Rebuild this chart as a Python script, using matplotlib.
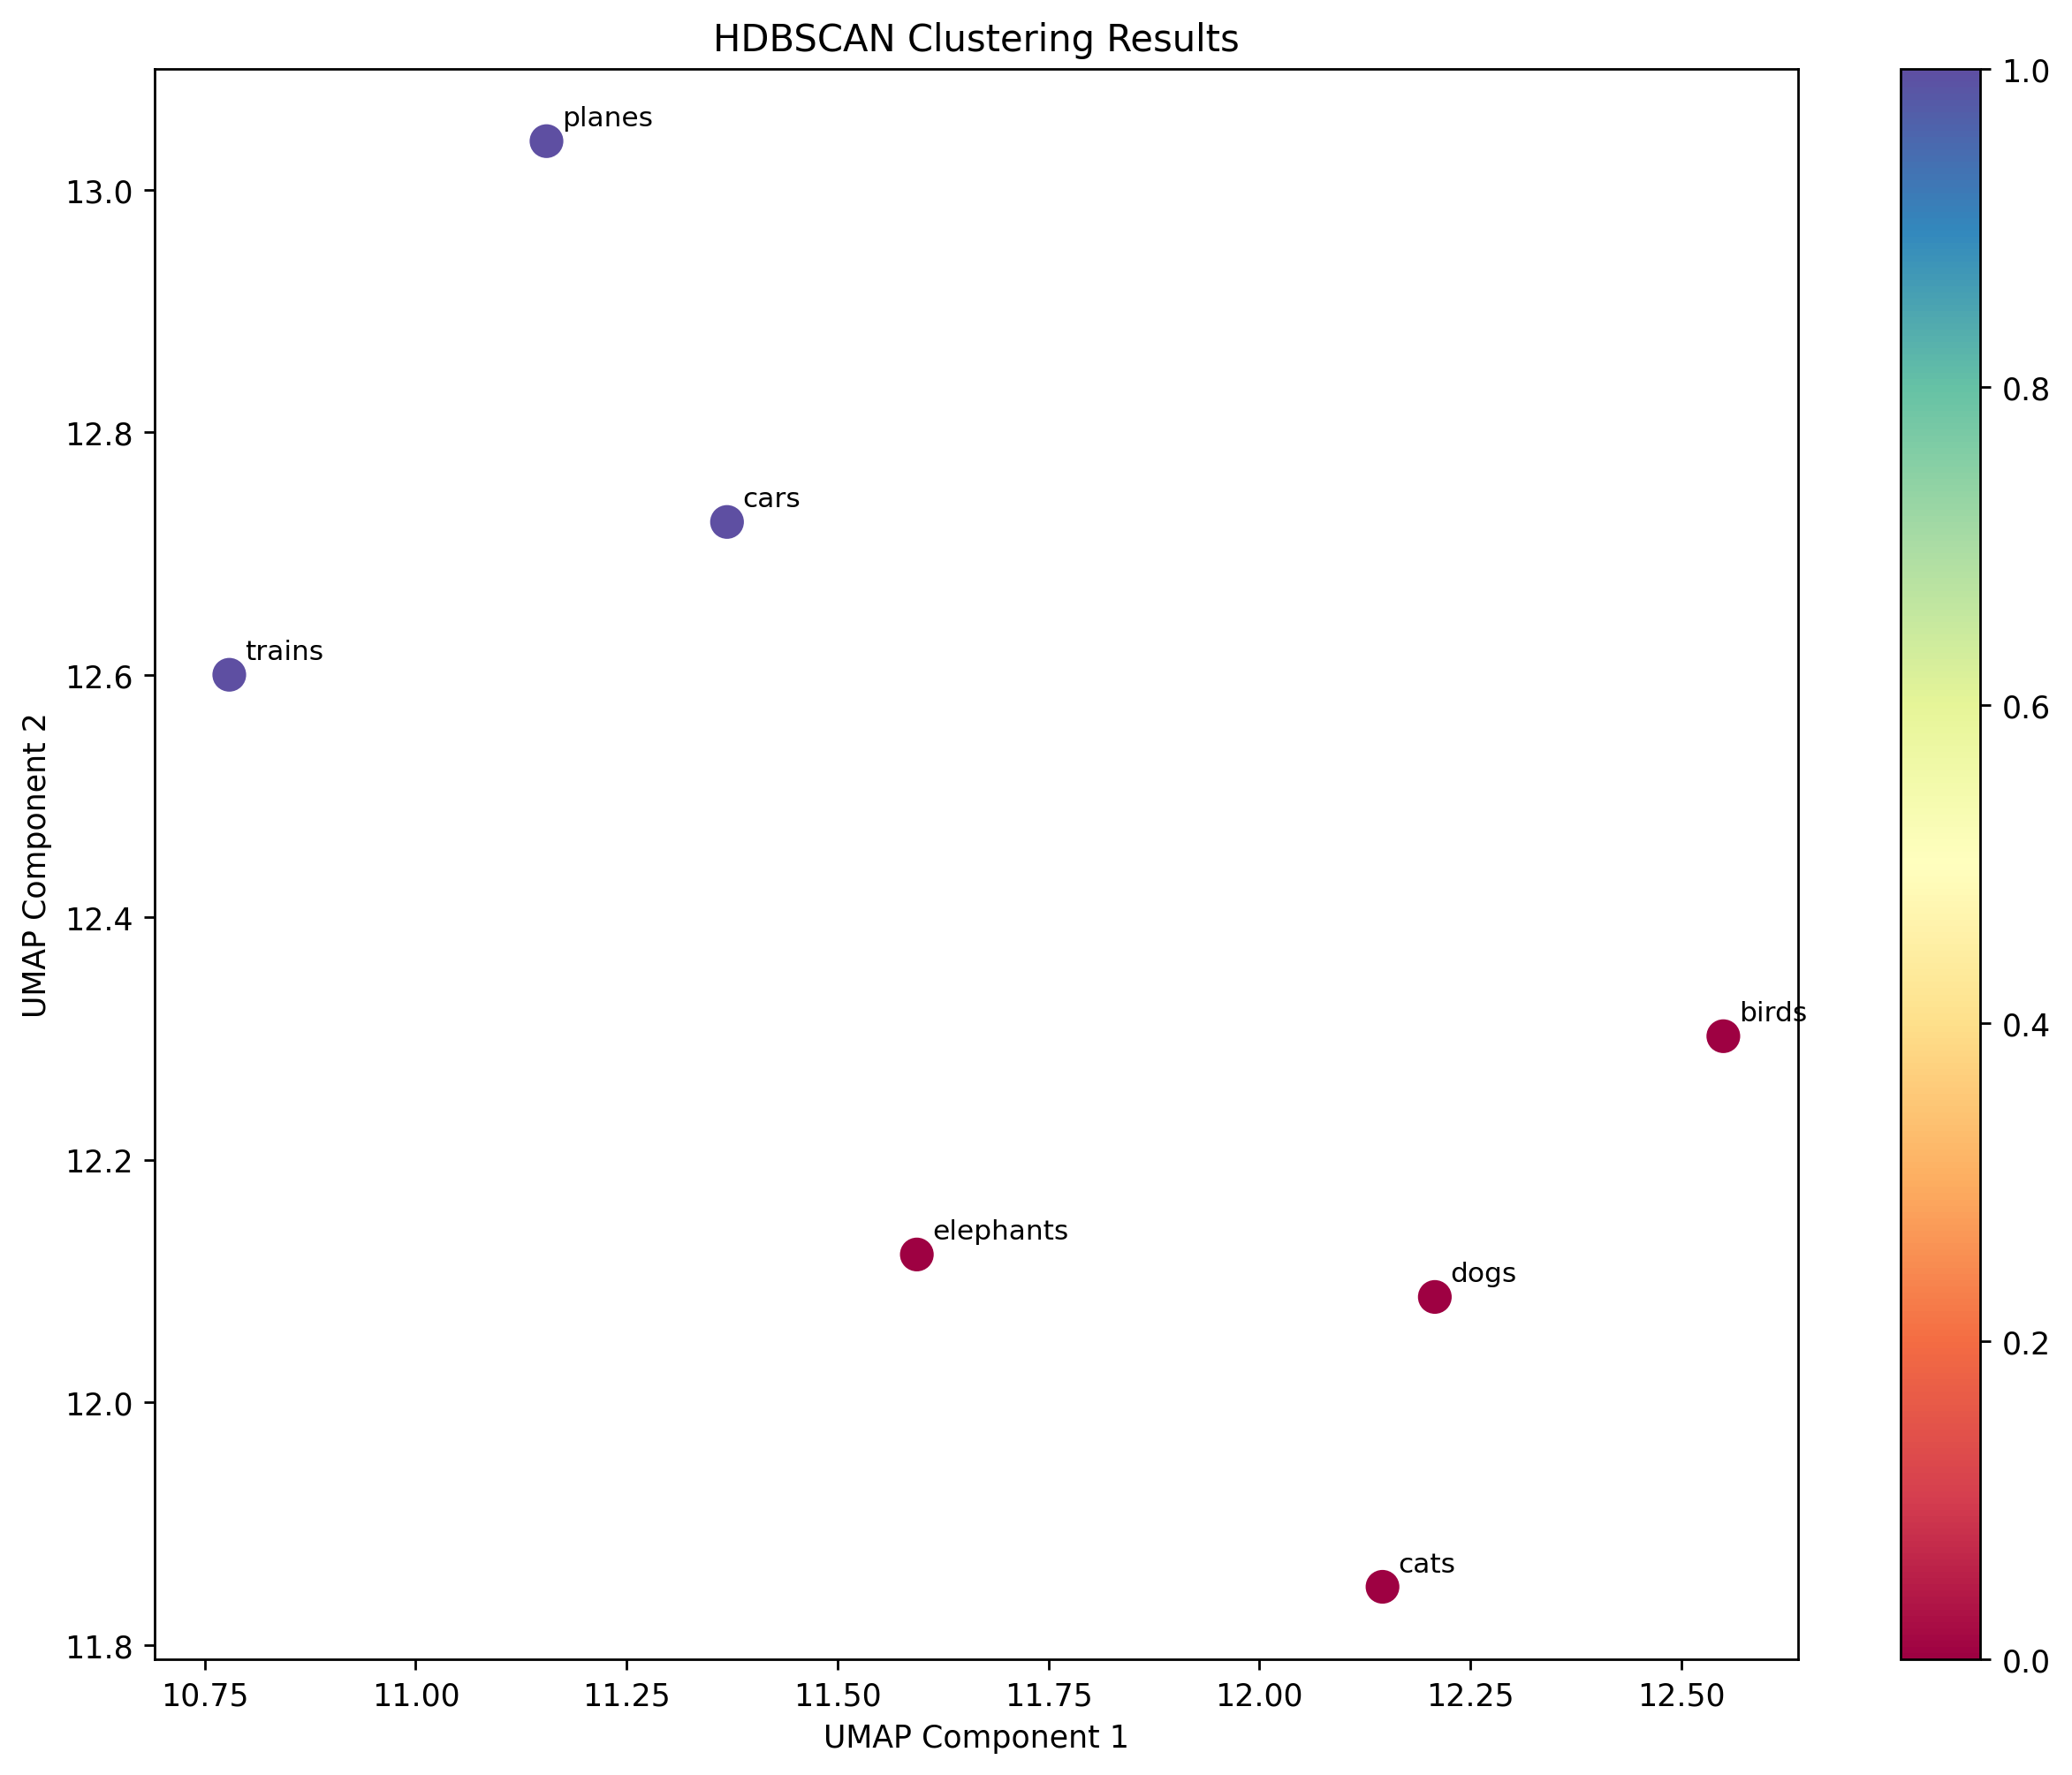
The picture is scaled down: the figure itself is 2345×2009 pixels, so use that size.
import numpy as np
import matplotlib.pyplot as plt

# words and their 2D UMAP embedding
words = ['cats', 'dogs', 'elephants', 'birds', 'cars', 'trains', 'planes']
umap_x = [12.146, 12.208, 11.594, 12.550, 11.369, 10.779, 11.155]
umap_y = [11.848, 12.087, 12.122, 12.302, 12.726, 12.600, 13.040]
cluster_labels = [0, 0, 0, 0, 1, 1, 1]

fig, ax = plt.subplots(figsize=(12, 9.35))
sc = ax.scatter(umap_x, umap_y, c=cluster_labels, cmap='Spectral', s=100)
plt.colorbar(sc)

for i, w in enumerate(words):
    ax.annotate(w, (umap_x[i], umap_y[i]), xytext=(5, 5), textcoords='offset points', fontsize=9)

ax.set_title('HDBSCAN Clustering Results')
ax.set_xlabel('UMAP Component 1')
ax.set_ylabel('UMAP Component 2')

plt.savefig('out.png', dpi=250, bbox_inches='tight')
